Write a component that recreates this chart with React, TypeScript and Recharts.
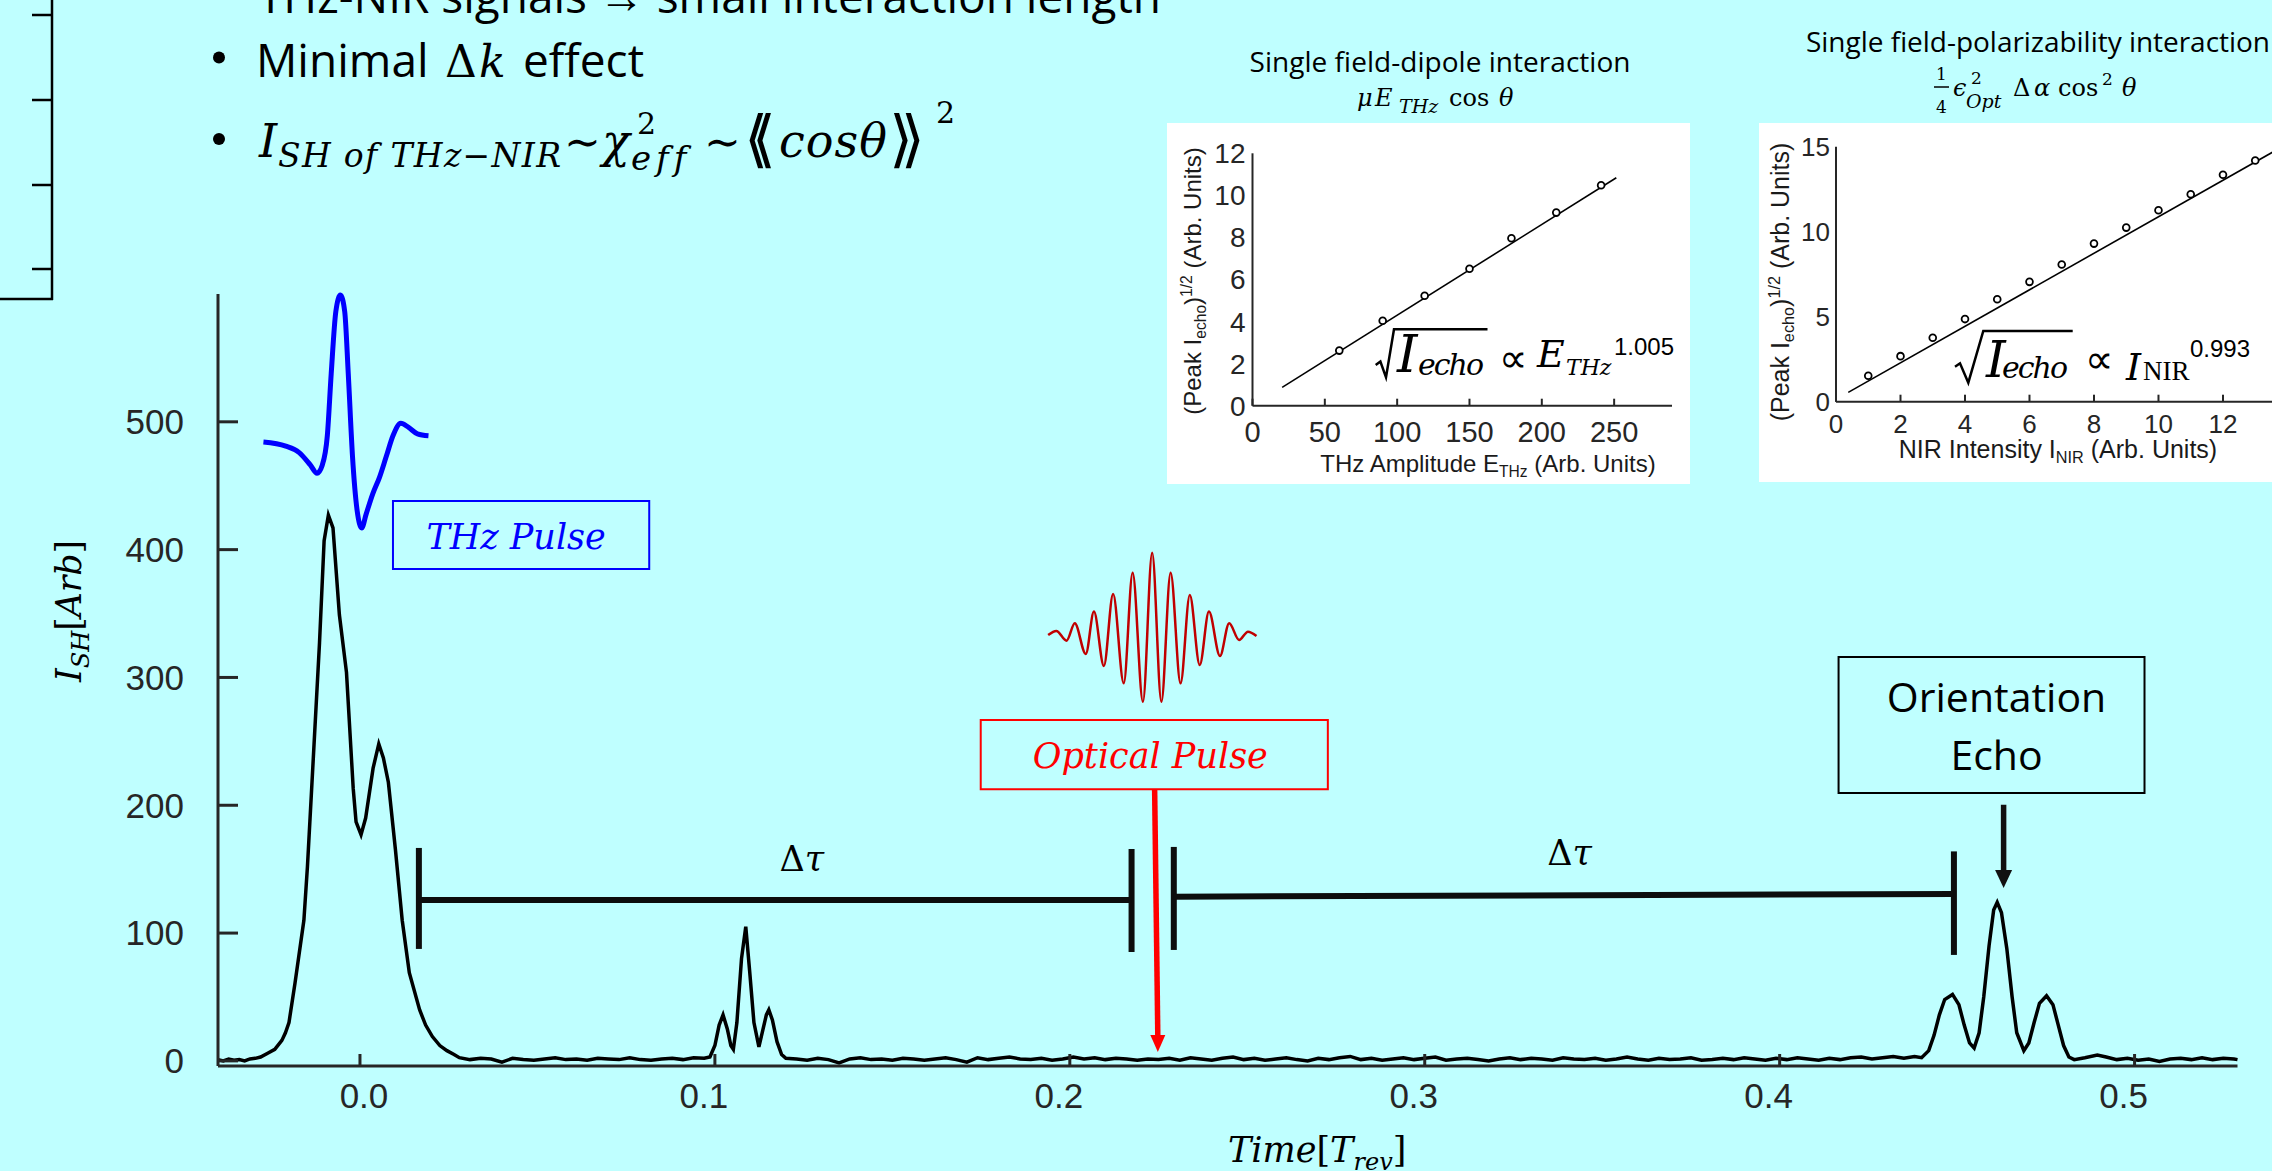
import React from 'react';
import {
  LineChart,
  ComposedChart,
  Line,
  Scatter,
  XAxis,
  YAxis,
  ReferenceLine,
  ReferenceArea,
  ReferenceDot,
} from 'recharts';

const SERIF = "'DejaVu Serif', serif";
const SANS = "'Open Sans', sans-serif";
const ARIAL = "'Liberation Sans', Arial, sans-serif";
const AXIS = '#262626';
const BG = '#bfffff';

// ---------------- main SHG trace : [time (T_rev), I_SH (arb)] ----------------
const shgTrace: [number, number][] = [
  [-0.04, 1.0], [-0.0385, 0.0], [-0.037, 1.5], [-0.0355, 0.5], [-0.034, 1.0], [-0.0325, 0.0],
  [-0.031, 1.5], [-0.0295, 2.0], [-0.028, 3.0], [-0.026, 6], [-0.024, 9], [-0.022, 16],
  [-0.021, 22], [-0.02, 30], [-0.0183, 61], [-0.0158, 110], [-0.0148, 152], [-0.0133, 229],
  [-0.0114, 327], [-0.0101, 407], [-0.0089, 427], [-0.0076, 417], [-0.0058, 349], [-0.0038, 304],
  [-0.0019, 213], [-0.0011, 187], [0.0003, 177], [0.0016, 190], [0.0037, 229], [0.0053, 248],
  [0.0066, 237], [0.008, 218], [0.01, 165], [0.0119, 110], [0.0139, 69], [0.0168, 40],
  [0.0185, 28], [0.0204, 19], [0.0225, 12], [0.0245, 8], [0.0265, 5],
  [0.028, 2.5], [0.031, 1.0], [0.034, 2.0], [0.037, 1.5], [0.04, -1.0], [0.043, 2.0], [0.046, 1.0],
  [0.049, 0.5], [0.052, 1.5], [0.055, 2.5], [0.058, 1.0], [0.061, 1.5], [0.064, 0.5], [0.067, 2.0],
  [0.07, 1.5], [0.073, 1.0], [0.076, 2.5], [0.079, 1.0], [0.082, 0.5], [0.085, 1.5], [0.088, 2.0],
  [0.091, 1.0], [0.094, 2.5], [0.097, 2.0],
  [0.0986, 3], [0.1, 12], [0.1012, 28], [0.1023, 36], [0.1035, 25], [0.1045, 12], [0.1052, 9],
  [0.1062, 30], [0.1075, 80], [0.1087, 105], [0.1098, 70], [0.111, 30], [0.1124, 11], [0.1135, 24],
  [0.1145, 36], [0.1152, 40], [0.1162, 32], [0.1175, 15], [0.1188, 5], [0.12, 2],
  [0.123, 1.5], [0.126, 0.5], [0.129, 2.0], [0.132, 1.0], [0.135, -1.5], [0.138, 1.5], [0.141, 2.5],
  [0.144, 1.0], [0.147, 1.5], [0.15, 0.5], [0.153, 2.0], [0.156, 1.5], [0.159, 0.5], [0.162, 1.5],
  [0.165, 2.5], [0.168, 1.0], [0.171, -1.0], [0.174, 2.5], [0.177, 1.0], [0.18, 2.0], [0.183, 3.0],
  [0.186, 1.5], [0.189, 1.0], [0.192, 2.0], [0.195, 0.5], [0.198, 1.5], [0.201, 3.0], [0.204, 1.5],
  [0.207, 2.5], [0.21, 1.0], [0.213, 2.0], [0.216, 1.5], [0.219, 0.5], [0.222, 1.5], [0.225, 1.0],
  [0.228, 2.0], [0.231, 0.5], [0.234, 2.5], [0.237, 1.5], [0.24, 0.5], [0.243, 2.0], [0.246, 3.0],
  [0.249, 1.0], [0.252, 2.0], [0.255, 0.5], [0.258, 1.5], [0.261, 2.5], [0.264, 1.0], [0.267, 0.0],
  [0.27, 2.0], [0.273, 1.0], [0.276, 2.5], [0.279, 3.5], [0.282, 1.0], [0.285, 2.0], [0.288, 0.5],
  [0.291, 1.5], [0.294, 2.5], [0.297, 1.0], [0.3, 2.0], [0.303, 3.0], [0.306, 0.5], [0.309, 1.5],
  [0.312, 2.0], [0.315, 1.0], [0.318, 0.0], [0.321, 1.5], [0.324, 2.5], [0.327, 1.0], [0.33, 2.0],
  [0.333, 1.5], [0.336, 0.5], [0.339, 2.5], [0.342, 1.5], [0.345, 1.0], [0.348, 2.0], [0.351, 0.5],
  [0.354, 1.5], [0.357, 3.0], [0.36, 1.5], [0.363, 0.5], [0.366, 2.0], [0.369, 1.0], [0.372, 1.5],
  [0.375, 2.5], [0.378, 0.5], [0.381, 1.0], [0.384, 2.0], [0.387, 1.0], [0.39, 2.5], [0.393, 1.5],
  [0.396, 0.5], [0.399, 2.0], [0.402, 1.0], [0.405, 2.5], [0.408, 1.5], [0.411, 0.5], [0.414, 2.0],
  [0.417, 1.0], [0.42, 2.5], [0.423, 3.0], [0.426, 1.5], [0.429, 2.5], [0.432, 3.5], [0.435, 2.0],
  [0.438, 3.5],
  [0.44, 2.5], [0.442, 8], [0.4435, 20], [0.445, 36], [0.4465, 48], [0.4487, 52], [0.4505, 44],
  [0.452, 28], [0.4535, 14], [0.4548, 10], [0.4562, 22], [0.4575, 50], [0.459, 90], [0.4603, 118],
  [0.4613, 124], [0.4625, 116], [0.464, 88], [0.4655, 50], [0.4668, 22], [0.4688, 8], [0.4702, 14],
  [0.4717, 30], [0.4732, 45], [0.4752, 51], [0.477, 44], [0.4785, 28], [0.48, 12], [0.4815, 3],
  [0.483, 1.0], [0.486, 2.5], [0.4895, 4.5], [0.492, 3.0], [0.495, 1.0], [0.498, 2.0], [0.501, 0.5],
  [0.504, 1.5], [0.507, -0.5], [0.51, 1.5], [0.513, 2.0], [0.516, 1.0], [0.519, 2.5], [0.522, 1.0],
  [0.525, 2.0], [0.528, 1.5], [0.529, 1.0],
];

// decorative pulse sketches drawn in the same axes
const thzPulseShape: [number, number][] = [
  [-0.0272, 484.2], [-0.0209, 481.0], [-0.0172, 476.1], [-0.014, 466.3], [-0.0121, 459.8],
  [-0.0106, 466.3], [-0.0092, 489.1], [-0.0081, 537.8], [-0.0068, 586.3], [-0.0055, 599.3],
  [-0.0043, 586.3], [-0.0033, 537.8], [-0.0021, 472.8], [-0.0008, 430.6], [0.0005, 417.0],
  [0.0017, 427.4], [0.0036, 443.6], [0.0055, 456.6], [0.0074, 472.8], [0.0093, 489.1],
  [0.0115, 498.8], [0.0137, 495.6], [0.0162, 490.6], [0.0193, 489.1],
];
const opticalPulseShape: [number, number][] = [
  [0.1939, 333.2], [0.1962, 336.4], [0.1991, 328.8], [0.2014, 342.4], [0.2045, 318.4],
  [0.2068, 351.5], [0.2096, 309.0], [0.2122, 365.3], [0.2152, 295.4], [0.2177, 382.0],
  [0.2206, 281.0], [0.2232, 397.6], [0.2258, 281.0], [0.2284, 382.0], [0.2312, 295.4],
  [0.2338, 364.5], [0.2366, 309.8], [0.2392, 351.5], [0.2423, 316.8], [0.2449, 342.4],
  [0.2477, 329.3], [0.2502, 335.8], [0.2526, 332.4],
];

const mainXTicks = [0, 0.1, 0.2, 0.3, 0.4, 0.5];
const mainYTicks = [0, 100, 200, 300, 400, 500];

// annotations (data coordinates)
const delayBars: [number, number, number][] = [
  [0.0166, 87.6, 166.6], [0.2174, 85.2, 165.8], [0.2293, 86.8, 167.4], [0.4491, 82.9, 163.9],
];
const delaySpans: [number, number, number, number][] = [
  [0.0166, 125.9, 0.2174, 125.9], [0.2293, 128.5, 0.4491, 130.6],
];
const delayLabels: [number, number][] = [[0.1245, 148.7], [0.3408, 153.3]];

// ---------------- inset 1 : single field-dipole ----------------
const dipoleAmplitude = [60, 90, 119, 150, 179, 210, 241];
const dipoleEchoRoot = [2.62, 4.04, 5.23, 6.51, 7.96, 9.18, 10.48];
const dipoleFit: [number, number][] = [[20.5, 0.87], [251.5, 10.84]];
const dipoleXTicks = [0, 50, 100, 150, 200, 250];
const dipoleYTicks = [0, 2, 4, 6, 8, 10, 12];

// ---------------- inset 2 : single field-polarizability ----------------
const nirIntensity = [1, 2, 3, 4, 5, 6, 7, 8, 9, 10, 11, 12, 13];
const nirEchoRoot = [1.53, 2.68, 3.76, 4.86, 6.03, 7.05, 8.07, 9.3, 10.24, 11.26, 12.2, 13.35, 14.19];
const nirFit: [number, number][] = [[0.38, 0.55], [13.7, 14.85]];
const nirXTicks = [0, 2, 4, 6, 8, 10, 12];
const nirYTicks = [0, 5, 10, 15];

// ---------------- helpers ----------------
const BoxText = (props: any) => {
  const vb = props.viewBox || { x: 0, y: 0, width: 0, height: 0 };
  const cx = vb.x + vb.width / 2 + (props.shiftX || 0);
  return (
    <text textAnchor="middle" fill={props.ink} fontFamily={props.face} fontSize={props.size} fontStyle={props.slant}>
      {props.rows.map((r: string, i: number) => (
        <tspan key={i} x={cx} y={vb.y + props.drops[i]}>{r}</tspan>
      ))}
    </text>
  );
};

const MainXTick = (props: any) => {
  const { x, y, payload } = props;
  const shift = payload.value === 0 ? 4 : -11;
  return (
    <text x={x + shift} y={y} dy="0.71em" textAnchor="middle" fill={AXIS} fontFamily={ARIAL} fontSize={35}>
      {Number(payload.value).toFixed(1)}
    </text>
  );
};

const MainXTitle = () => (
  <text x={1228} y={1161.7} fontFamily={SERIF} fontSize={35} fill="#000">
    <tspan fontStyle="italic">Time</tspan>
    <tspan>[</tspan>
    <tspan fontStyle="italic">T</tspan>
    <tspan fontStyle="italic" fontSize={24} dy={8}>rev</tspan>
    <tspan dy={-8}>]</tspan>
  </text>
);

const MainYTitle = () => (
  <text transform="rotate(-90 81 611)" x={81} y={611} textAnchor="middle" fontFamily={SERIF} fontSize={36} fill="#000"
    textLength={142} lengthAdjust="spacingAndGlyphs">
    <tspan fontStyle="italic">I</tspan>
    <tspan fontStyle="italic" fontSize={25} dy={8}>SH</tspan>
    <tspan dy={-8}>[</tspan>
    <tspan fontStyle="italic">Arb</tspan>
    <tspan>]</tspan>
  </text>
);

const arrowHead = (color: string, half: number, len: number) => (p: any) => (
  <polygon points={`${p.cx - half},${p.cy - len} ${p.cx + half},${p.cy - len} ${p.cx},${p.cy}`} fill={color} />
);

const deltaTau = (p: any) => (
  <text x={p.cx} y={p.cy} textAnchor="middle" fontFamily={SERIF} fontSize={35} fill="#000">
    <tspan>Δ</tspan>
    <tspan fontStyle="italic">τ</tspan>
  </text>
);

function MainChart() {
  const traceData = shgTrace.map(([t, v]) => ({ t, v }));
  const thzData = thzPulseShape.map(([t, v]) => ({ t, v }));
  const optData = opticalPulseShape.map(([t, v]) => ({ t, v }));
  return (
    <LineChart width={2272} height={1171} margin={{ top: 294, right: 34.5, bottom: 45, left: 118 }}>
      <XAxis
        type="number"
        dataKey="t"
        domain={[-0.04, 0.529]}
        ticks={mainXTicks}
        height={60}
        tickSize={-12}
        tickMargin={29}
        axisLine={{ stroke: AXIS, strokeWidth: 3 }}
        tickLine={{ stroke: AXIS, strokeWidth: 3 }}
        tick={(p: any) => <MainXTick {...p} />}
        label={<MainXTitle />}
      />
      <YAxis
        type="number"
        domain={[-4, 600]}
        ticks={mainYTicks}
        width={100}
        tickSize={-20}
        tickMargin={54}
        axisLine={{ stroke: AXIS, strokeWidth: 3 }}
        tickLine={{ stroke: AXIS, strokeWidth: 3 }}
        tick={{ fill: AXIS, fontSize: 35, fontFamily: ARIAL }}
        label={<MainYTitle />}
      />
      <Line data={traceData} dataKey="v" type="linear" stroke="#000" strokeWidth={3.5} dot={false} isAnimationActive={false} />
      <Line data={thzData} dataKey="v" type="monotone" stroke="#0000ff" strokeWidth={5} dot={false} isAnimationActive={false} />
      <Line data={optData} dataKey="v" type="monotone" stroke="#c00000" strokeWidth={2.5} dot={false} isAnimationActive={false} />

      {delayBars.map(([x, lo, hi], i) => (
        <ReferenceLine key={'bar' + i} segment={[{ x, y: lo }, { x, y: hi }]} stroke="#0d0d0d" strokeWidth={6} ifOverflow="visible" />
      ))}
      {delaySpans.map(([x1, y1, x2, y2], i) => (
        <ReferenceLine key={'span' + i} segment={[{ x: x1, y: y1 }, { x: x2, y: y2 }]} stroke="#0d0d0d" strokeWidth={6} ifOverflow="visible" />
      ))}
      {delayLabels.map(([x, y], i) => (
        <ReferenceDot key={'dt' + i} x={x} y={y} r={1} shape={deltaTau} ifOverflow="visible" />
      ))}

      <ReferenceArea x1={0.0093} x2={0.0815} y1={384.8} y2={438} fill="none" fillOpacity={0} stroke="#0000ff" strokeWidth={2} ifOverflow="visible"
        label={<BoxText rows={['THz Pulse']} drops={[47.6]} ink="#0000ff" face={SERIF} size={35} slant="italic" shiftX={-5} />} />
      <ReferenceArea x1={0.1749} x2={0.2727} y1={212.5} y2={266.7} fill="none" fillOpacity={0} stroke="#ff0000" strokeWidth={2} ifOverflow="visible"
        label={<BoxText rows={['Optical Pulse']} drops={[48]} ink="#ff0000" face={SERIF} size={35} slant="italic" shiftX={-4} />} />
      <ReferenceArea x1={0.4166} x2={0.5028} y1={209.6} y2={316} fill="none" fillOpacity={0} stroke="#000" strokeWidth={2} ifOverflow="visible"
        label={<BoxText rows={['Orientation', 'Echo']} drops={[54.7, 113]} ink="#000" face={SANS} size={41} slant="normal" shiftX={5} />} />

      <ReferenceLine segment={[{ x: 0.2239, y: 212.5 }, { x: 0.2248, y: 18 }]} stroke="#ff0000" strokeWidth={5.5} ifOverflow="visible" />
      <ReferenceDot x={0.2248} y={7.0} r={1} shape={arrowHead('#ff0000', 7.5, 17)} ifOverflow="visible" />
      <ReferenceLine segment={[{ x: 0.4631, y: 200.4 }, { x: 0.4631, y: 146 }]} stroke="#111" strokeWidth={5.5} ifOverflow="visible" />
      <ReferenceDot x={0.4631} y={135.3} r={1} shape={arrowHead('#111', 8.5, 18)} ifOverflow="visible" />
    </LineChart>
  );
}

// ---------------- inset pieces ----------------
const OpenCircle = (p: any) => <circle cx={p.cx} cy={p.cy} r={3.4} fill="#fff" stroke="#000" strokeWidth={1.8} />;

const InsetXTitle = (props: any) => (
  <text x={props.tx} y={props.ty} textAnchor="middle" fontFamily={ARIAL} fontSize={props.fsz} fill="#1a1a1a">
    {props.head}
    <tspan fontSize={props.fsz * 0.65} dy={5}>{props.sub}</tspan>
    <tspan dy={-5}> (Arb. Units)</tspan>
  </text>
);

const InsetYTitle = (props: any) => (
  <text transform={`rotate(-90 ${props.tx} ${props.ty})`} x={props.tx} y={props.ty} textAnchor="middle" fontFamily={ARIAL}
    fontSize={props.fsz} fill="#1a1a1a">
    (Peak I
    <tspan fontSize={props.fsz * 0.65} dy={5}>echo</tspan>
    <tspan dy={-5}>)</tspan>
    <tspan fontSize={props.fsz * 0.65} dy={-9}>1/2</tspan>
    <tspan dy={9}> (Arb. Units)</tspan>
  </text>
);

function DipoleInset() {
  const pts = dipoleAmplitude.map((x, i) => ({ x, y: dipoleEchoRoot[i] }));
  const fit = dipoleFit.map(([x, y]) => ({ x, y }));
  return (
    <ComposedChart width={523} height={361} margin={{ top: 30.3, right: 18, bottom: 28.3, left: 25.5 }}>
      <XAxis type="number" dataKey="x" domain={[0, 290]} ticks={dipoleXTicks} height={50} tickSize={-7} tickMargin={23}
        axisLine={{ stroke: AXIS, strokeWidth: 2 }} tickLine={{ stroke: AXIS, strokeWidth: 2 }}
        tick={{ fill: AXIS, fontSize: 29, fontFamily: ARIAL }}
        label={<InsetXTitle tx={321} ty={348.5} fsz={24} head="THz Amplitude E" sub="THz" />} />
      <YAxis type="number" dataKey="y" domain={[0, 12]} ticks={dipoleYTicks} width={60} tickSize={0} tickLine={false} tickMargin={7}
        axisLine={{ stroke: AXIS, strokeWidth: 2 }} tick={{ fill: AXIS, fontSize: 28, fontFamily: ARIAL }}
        label={<InsetYTitle tx={34} ty={158} fsz={24} />} />
      <Line data={fit} dataKey="y" type="linear" stroke="#000" strokeWidth={1.6} dot={false} isAnimationActive={false} />
      <Scatter data={pts} dataKey="y" shape={OpenCircle} isAnimationActive={false} />
    </ComposedChart>
  );
}

function NirInset() {
  const pts = nirIntensity.map((x, i) => ({ x, y: nirEchoRoot[i] }));
  const fit = nirFit.map(([x, y]) => ({ x, y }));
  return (
    <ComposedChart width={560} height={359} margin={{ top: 23.7, right: 15.4, bottom: 30.3, left: 17 }}>
      <XAxis type="number" dataKey="x" domain={[0, 14.5]} ticks={nirXTicks} height={50} tickSize={-7} tickMargin={20.3}
        axisLine={{ stroke: AXIS, strokeWidth: 2 }} tickLine={{ stroke: AXIS, strokeWidth: 2 }}
        tick={{ fill: AXIS, fontSize: 26, fontFamily: ARIAL }}
        label={<InsetXTitle tx={299} ty={335} fsz={25} head="NIR Intensity I" sub="NIR" />} />
      <YAxis type="number" dataKey="y" domain={[0, 15]} ticks={nirYTicks} width={60} tickSize={0} tickLine={false} tickMargin={6}
        axisLine={{ stroke: AXIS, strokeWidth: 2 }} tick={{ fill: AXIS, fontSize: 26, fontFamily: ARIAL }}
        label={<InsetYTitle tx={30} ty={159} fsz={25} />} />
      <Line data={fit} dataKey="y" type="linear" stroke="#000" strokeWidth={1.6} dot={false} isAnimationActive={false} />
      <Scatter data={pts} dataKey="y" shape={OpenCircle} isAnimationActive={false} />
    </ComposedChart>
  );
}

// ---------------- slide text & decoration overlay ----------------
function Overlay() {
  return (
    <svg width={2272} height={1171} style={{ position: 'absolute', left: 0, top: 0, pointerEvents: 'none' }}>
      {/* fragment of a neighbouring figure */}
      <g stroke="#000" strokeWidth={2.5}>
        <line x1={52} y1={0} x2={52} y2={300} />
        <line x1={0} y1={299} x2={53} y2={299} />
        {[15, 100, 185, 269].map((y) => (
          <line key={y} x1={32} y1={y} x2={52} y2={y} />
        ))}
      </g>

      {/* bullets */}
      <text x={258} y={13} fontFamily={SANS} fontSize={46} fill="#000" textLength={903}>
        THz-NIR signals → small interaction length
      </text>
      <circle cx={219} cy={57.5} r={6} fill="#000" />
      <text y={76.7} fontSize={46} fill="#000">
        <tspan x={256} fontFamily={SANS}>Minimal</tspan>
        <tspan x={445} fontFamily={SERIF} fontSize={44}>Δ</tspan>
        <tspan x={479} fontFamily={SERIF} fontSize={44} fontStyle="italic">k</tspan>
        <tspan x={523} fontFamily={SANS}>effect</tspan>
      </text>
      <circle cx={219} cy={139} r={6} fill="#000" />
      <text fontFamily={SERIF} fontStyle="italic" fill="#000">
        <tspan x={259} y={157} fontSize={46}>I</tspan>
        <tspan x={278} y={167} fontSize={33} textLength={283}>SH of THz−NIR</tspan>
        <tspan x={564} y={157} fontSize={44} fontStyle="normal">∼</tspan>
        <tspan x={602} y={157} fontSize={46}>χ</tspan>
        <tspan x={637} y={134} fontSize={30} fontStyle="normal">2</tspan>
        <tspan x={631} y={170} fontSize={34} letterSpacing={5}>eff</tspan>
        <tspan x={704} y={157} fontSize={44} fontStyle="normal">∼</tspan>
        <tspan x={744} y={160} fontSize={62} fontStyle="normal" fontFamily="'DejaVu Sans', sans-serif" textLength={32}>⟨⟨</tspan>
        <tspan x={779} y={157} fontSize={46} textLength={108}>cosθ</tspan>
        <tspan x={889} y={160} fontSize={62} fontStyle="normal" fontFamily="'DejaVu Sans', sans-serif" textLength={36}>⟩⟩</tspan>
        <tspan x={936} y={123} fontSize={30} fontStyle="normal">2</tspan>
      </text>

      {/* inset titles */}
      <text x={1249.5} y={72} fontFamily={SANS} fontSize={28} fill="#000" textLength={381}>Single field-dipole interaction</text>
      <text fontFamily={SERIF} fill="#000">
        <tspan x={1357} y={106} fontSize={24} fontStyle="italic">μ</tspan>
        <tspan x={1375} y={106} fontSize={24} fontStyle="italic">E</tspan>
        <tspan x={1399} y={113} fontSize={19} fontStyle="italic">THz</tspan>
        <tspan x={1449} y={106} fontSize={24}>cos</tspan>
        <tspan x={1499} y={106} fontSize={24} fontStyle="italic">θ</tspan>
      </text>
      <text x={1806} y={52} fontFamily={SANS} fontSize={28} fill="#000" textLength={464}>Single field-polarizability interaction</text>
      <text fontFamily={SERIF} fill="#000">
        <tspan x={1936} y={80} fontSize={17}>1</tspan>
        <tspan x={1936} y={113} fontSize={17}>4</tspan>
        <tspan x={1953} y={95.7} fontSize={24} fontStyle="italic">ϵ</tspan>
        <tspan x={1971} y={84} fontSize={17}>2</tspan>
        <tspan x={1966} y={108} fontSize={19} fontStyle="italic">Opt</tspan>
        <tspan x={2013} y={95.7} fontSize={24}>Δ</tspan>
        <tspan x={2034} y={95.7} fontSize={24} fontStyle="italic">α</tspan>
        <tspan x={2058} y={95.7} fontSize={24}>cos</tspan>
        <tspan x={2102} y={85} fontSize={17}>2</tspan>
        <tspan x={2122} y={95.7} fontSize={24} fontStyle="italic">θ</tspan>
      </text>
      <line x1={1934} y1={87} x2={1949} y2={87} stroke="#000" strokeWidth={1.5} />

      {/* inset 1 law */}
      <path d="M1375.7,365 L1380.4,361.5 L1386,377.3 L1394,329.3 L1487.5,329.3" fill="none" stroke="#000" strokeWidth={2.5} />
      <text fontFamily={SERIF} fontStyle="italic" fill="#000">
        <tspan x={1397} y={371.7} fontSize={52}>I</tspan>
        <tspan x={1418} y={375} fontSize={30} textLength={66}>echo</tspan>
        <tspan x={1499} y={372} fontSize={40} fontStyle="normal" fontFamily="'DejaVu Sans', sans-serif">∝</tspan>
        <tspan x={1537} y={367} fontSize={38}>E</tspan>
        <tspan x={1566} y={375} fontSize={22}>THz</tspan>
        <tspan x={1614} y={355} fontSize={24} fontStyle="normal" fontFamily={ARIAL}>1.005</tspan>
      </text>

      {/* inset 2 law */}
      <path d="M1955,366.7 L1960,363.3 L1968.3,382.7 L1983.3,331 L2072.7,331" fill="none" stroke="#000" strokeWidth={2.5} />
      <text fontFamily={SERIF} fontStyle="italic" fill="#000">
        <tspan x={1986} y={376.7} fontSize={50}>I</tspan>
        <tspan x={2002} y={378} fontSize={30} textLength={66}>echo</tspan>
        <tspan x={2085} y={373} fontSize={40} fontStyle="normal" fontFamily="'DejaVu Sans', sans-serif">∝</tspan>
        <tspan x={2126} y={380} fontSize={38}>I</tspan>
        <tspan x={2143} y={380} fontSize={27} fontStyle="normal" fontFamily="'Liberation Serif', serif">NIR</tspan>
        <tspan x={2190} y={356.7} fontSize={24} fontStyle="normal" fontFamily={ARIAL}>0.993</tspan>
      </text>
    </svg>
  );
}

export default function App() {
  return (
    <div style={{ position: 'fixed', left: 0, top: 0, width: 2272, height: 1171, overflow: 'hidden', background: BG }}>
      <div style={{ position: 'absolute', left: 0, top: 0 }}>
        <MainChart />
      </div>
      <div style={{ position: 'absolute', left: 1167, top: 123, width: 523, height: 361, background: '#fff' }}>
        <DipoleInset />
      </div>
      <div style={{ position: 'absolute', left: 1759, top: 123, width: 560, height: 359, background: '#fff' }}>
        <NirInset />
      </div>
      <Overlay />
    </div>
  );
}
